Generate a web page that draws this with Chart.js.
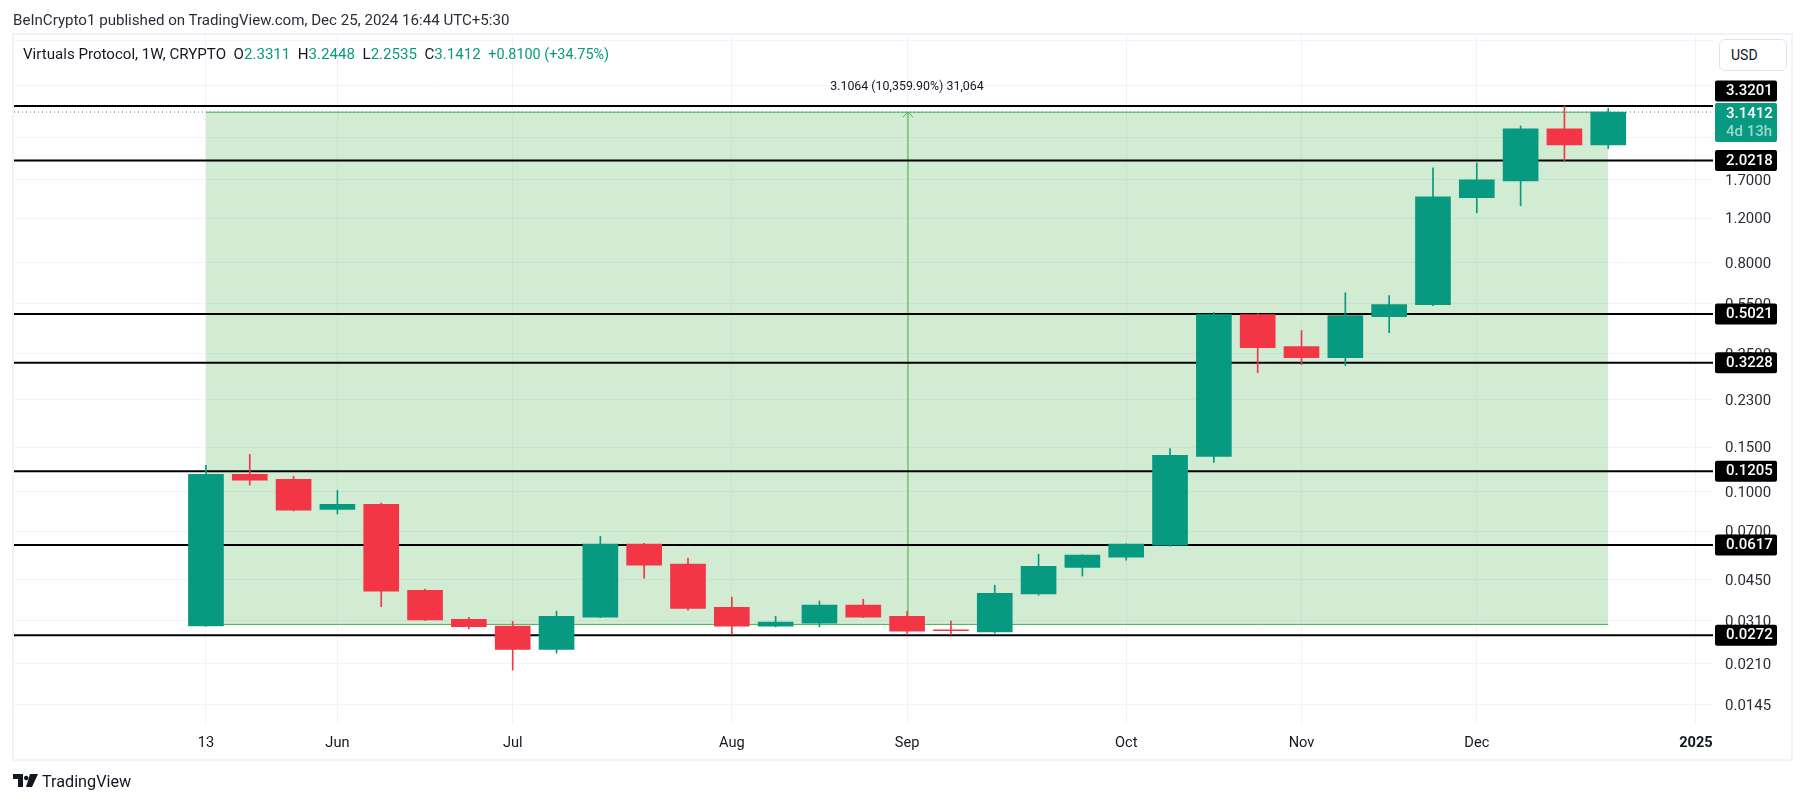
<!DOCTYPE html>
<html>
<head>
<meta charset="utf-8">
<title>Virtuals Protocol 1W</title>
<script src="https://cdn.jsdelivr.net/npm/chart.js@4/dist/chart.umd.min.js"></script>
<style>
  html, body { margin: 0; padding: 0; background: #fff; }
  body { width: 1804px; height: 803px; position: relative; overflow: hidden; font-family: Roboto, sans-serif; color: #131722; }
  #frame { position: absolute; left: 12px; top: 33px; width: 1777px; height: 724px; border: 2px solid #f0f3fa; }
  canvas { position: absolute; left: 0; top: 0; }
  .txt { position: absolute; white-space: pre; }
  #published { left: 13px; top: 11px; font-size: 15.1px; line-height: 18px; color: #2a2e39; }
  #legend { left: 23px; top: 45px; font-size: 15.1px; line-height: 18px; }
  #legend b { font-weight: 400; color: #089981; }
  #legend b.chg { font-size: 14.4px; }
  #usd { position: absolute; left: 1719px; top: 39px; width: 66px; height: 30px; border: 1px solid #e0e3eb; border-radius: 6px; font-size: 14px; line-height: 30px; text-indent: 11px; background: #fff; }
  #logo { position: absolute; left: 13px; top: 773px; }
  #brand { left: 42px; top: 771px; font-size: 16.2px; line-height: 21px; }
</style>
</head>
<body>
<div id="frame"></div>
<canvas id="priceChart" width="1804" height="803"></canvas>
<div class="txt" id="published">BeInCrypto1 published on TradingView.com, Dec 25, 2024 16:44 UTC+5:30</div>
<div class="txt" id="legend">Virtuals Protocol, 1W, CRYPTO  O<b>2.3311</b>  H<b>3.2448</b>  L<b>2.2535</b>  C<b>3.1412</b>  <b class="chg">+0.8100 (+34.75%)</b></div>
<div id="usd">USD</div>
<svg id="logo" width="25" height="15" viewBox="0 0 25 15"><path fill="#131722" d="M0 1h10v13H5V6H0zM11 5a2.2 2.2 0 1 0 0-.01zM17 1h8l-6 13h-6z"/></svg>
<div class="txt" id="brand">TradingView</div>

<script>
// weekly candles, 13 May 2024 onward
const opens  = [0.0296, 0.1170, 0.1118, 0.0852, 0.0892, 0.0409, 0.0314, 0.0295, 0.0239, 0.0320, 0.0621, 0.0518, 0.0350, 0.0295, 0.0303, 0.0357, 0.0323, 0.0285, 0.0280, 0.0395, 0.0503, 0.0552, 0.0615, 0.1378, 0.4991, 0.3734, 0.3380, 0.4902, 0.5464, 1.4417, 1.6820, 2.6947, 2.3311];
const highs  = [0.1270, 0.1403, 0.1150, 0.1012, 0.0902, 0.0413, 0.0320, 0.0308, 0.0338, 0.0667, 0.0626, 0.0547, 0.0384, 0.0323, 0.0371, 0.0377, 0.0338, 0.0309, 0.0428, 0.0567, 0.0564, 0.0623, 0.1481, 0.5080, 0.5030, 0.4317, 0.6089, 0.5929, 1.8923, 1.9802, 2.7695, 3.3201, 3.2448];
const lows   = [0.0295, 0.1062, 0.0840, 0.0817, 0.0352, 0.0311, 0.0288, 0.0198, 0.0231, 0.0319, 0.0456, 0.0341, 0.0274, 0.0293, 0.0293, 0.0319, 0.0273, 0.0273, 0.0277, 0.0391, 0.0465, 0.0537, 0.0610, 0.1304, 0.2949, 0.3172, 0.3143, 0.4237, 0.5415, 1.2578, 1.3409, 2.0200, 2.2535];
const closes = [0.1170, 0.1111, 0.0845, 0.0892, 0.0405, 0.0312, 0.0294, 0.0239, 0.0323, 0.0621, 0.0513, 0.0347, 0.0295, 0.0306, 0.0357, 0.0320, 0.0282, 0.0283, 0.0398, 0.0508, 0.0562, 0.0621, 0.1390, 0.4991, 0.3700, 0.3380, 0.4946, 0.5464, 1.4549, 1.6966, 2.6947, 2.3311, 3.1412];

const levelValues = [3.3201, 2.0218, 0.5021, 0.3228, 0.1205, 0.0617, 0.0272];
const priceTicks = [6.0, 4.0, 2.5, 1.7, 1.2, 0.8, 0.55, 0.35, 0.23, 0.15, 0.10, 0.07, 0.045, 0.031, 0.021, 0.0145];
// these two sit behind the USD button and the top price label
const hiddenPriceTicks = [6.0, 4.0];
const timeTickWeeks = [0, 3, 7, 12, 16, 21, 25, 29, 34];
const timeTickLabels = ["13", "Jun", "Jul", "Aug", "Sep", "Oct", "Nov", "Dec", "2025"];

const lastPrice = 3.1412;
const rangeLow = 0.02998;
const rangeHigh = 3.1364;
const rangeStartWeek = 0;
const rangeEndWeek = 32;
const rangeMidWeek = 16;
const rangeLabel = "3.1064 (10,359.90%) 31,064";
const countdown = "4d 13h";

const UP = "#089981";
const DOWN = "#f23645";
const RANGE = "#4caf50";
const GRID = "#f0f3fa";
const FONT = "Roboto, sans-serif";
const xMin = -4.38;
const xMax = 34.39;

const candleColors = opens.map((o, i) => closes[i] >= o ? UP : DOWN);

function flatLine(y, color, width, order, extra) {
  return Object.assign({
    type: "line",
    data: [{ x: xMin, y: y }, { x: xMax, y: y }],
    borderColor: color,
    borderWidth: width,
    pointRadius: 0,
    order: order
  }, extra || {});
}

const datasets = [
  {
    type: "bar",
    data: opens.map((o, i) => ({ x: i, y: [o, closes[i]] })),
    backgroundColor: candleColors,
    barThickness: 35,
    minBarLength: 1,
    grouped: false,
    order: 1
  },
  {
    type: "bar",
    data: highs.map((h, i) => ({ x: i, y: [lows[i], h] })),
    backgroundColor: candleColors,
    barThickness: 1,
    grouped: false,
    order: 2
  }
];

levelValues.forEach(v => datasets.push(flatLine(v, "#000", 2, 3)));

datasets.push(flatLine(lastPrice, UP, 1, 4, { borderDash: [1, 3] }));

// arrow shaft of the measure tool
datasets.push({
  type: "line",
  data: [{ x: rangeMidWeek + 0.02, y: rangeLow }, { x: rangeMidWeek + 0.02, y: rangeHigh }],
  borderColor: RANGE,
  borderWidth: 1,
  pointRadius: 0,
  order: 5
});

// measure tool box
datasets.push({
  type: "line",
  data: [{ x: rangeStartWeek, y: rangeHigh }, { x: rangeEndWeek, y: rangeHigh }],
  borderColor: RANGE,
  borderWidth: 1,
  pointRadius: 0,
  backgroundColor: "rgba(76,175,80,0.25)",
  fill: "+1",
  order: 6
});
datasets.push({
  type: "line",
  data: [{ x: rangeStartWeek, y: rangeLow }, { x: rangeEndWeek, y: rangeLow }],
  borderColor: RANGE,
  borderWidth: 1,
  pointRadius: 0,
  order: 6
});

const overlayPlugin = {
  id: "overlay",
  afterDraw(chart) {
    const c = chart.ctx;
    const xs = chart.scales.x;
    const ys = chart.scales.y;

    // arrow head and label of the measure tool
    const ax = xs.getPixelForValue(rangeMidWeek + 0.02);
    const ay = ys.getPixelForValue(rangeHigh);
    c.strokeStyle = RANGE;
    c.lineWidth = 1;
    c.beginPath();
    c.moveTo(ax - 5, ay + 5);
    c.lineTo(ax, ay);
    c.lineTo(ax + 5, ay + 5);
    c.stroke();
    c.fillStyle = "#131722";
    c.font = "12.4px " + FONT;
    c.textAlign = "center";
    c.textBaseline = "middle";
    c.fillText(rangeLabel, ax - 1, 87);

    // price labels on the axis
    const boxX = chart.chartArea.right + 2;
    c.textAlign = "left";
    levelValues.forEach((v, i) => {
      const y = ys.getPixelForValue(v) - (i === 0 ? 15 : 0);
      c.fillStyle = "#000";
      c.beginPath();
      c.roundRect(boxX, y - 10.5, 62, 21, 2);
      c.fill();
      c.fillStyle = "#fff";
      c.font = "500 15px " + FONT;
      c.fillText(v.toFixed(4), boxX + 11, y + 0.5);
    });

    const py = ys.getPixelForValue(lastPrice);
    c.fillStyle = UP;
    c.beginPath();
    c.roundRect(boxX, py - 9, 62, 39, 2);
    c.fill();
    c.fillStyle = "#fff";
    c.font = "500 15px " + FONT;
    c.fillText(lastPrice.toFixed(4), boxX + 11, py + 2);
    c.fillStyle = "rgba(255,255,255,0.6)";
    c.fillText(countdown, boxX + 11, py + 20.5);
  }
};

new Chart(document.getElementById("priceChart"), {
  data: { datasets: datasets },
  plugins: [overlayPlugin],
  options: {
    responsive: false,
    animation: false,
    events: [],
    layout: { padding: { left: 14, top: 35, right: 15, bottom: 44 } },
    plugins: {
      legend: { display: false },
      tooltip: { enabled: false }
    },
    scales: {
      x: {
        type: "linear",
        min: xMin,
        max: xMax,
        bounds: "data",
        offset: false,
        afterBuildTicks: scale => {
          scale.ticks = timeTickWeeks.map(w => ({ value: w }));
        },
        afterFit: scale => { scale.height = 35; },
        grid: { color: GRID, drawTicks: false, offset: false, lineWidth: 1 },
        border: { display: false },
        ticks: {
          autoSkip: false,
          maxRotation: 0,
          padding: 11,
          color: "#131722",
          font: ctx => ({
            family: FONT,
            size: 14.6,
            weight: ctx.tick && ctx.tick.value === 34 ? "bold" : "normal"
          }),
          callback: value => timeTickLabels[timeTickWeeks.indexOf(value)]
        }
      },
      y: {
        type: "logarithmic",
        position: "right",
        min: 0.01214,
        max: 6.32,
        bounds: "data",
        afterBuildTicks: scale => {
          scale.ticks = priceTicks.map(v => ({ value: v }));
        },
        afterFit: scale => { scale.width = 76; },
        grid: { color: GRID, drawTicks: false, lineWidth: 1 },
        border: { display: false },
        ticks: {
          autoSkip: false,
          padding: 12,
          labelOffset: 1.5,
          color: "#2a2e39",
          font: { family: FONT, size: 15 },
          callback: value => hiddenPriceTicks.includes(value) ? "" : Number(value).toFixed(4)
        }
      }
    }
  }
});
</script>
</body>
</html>
